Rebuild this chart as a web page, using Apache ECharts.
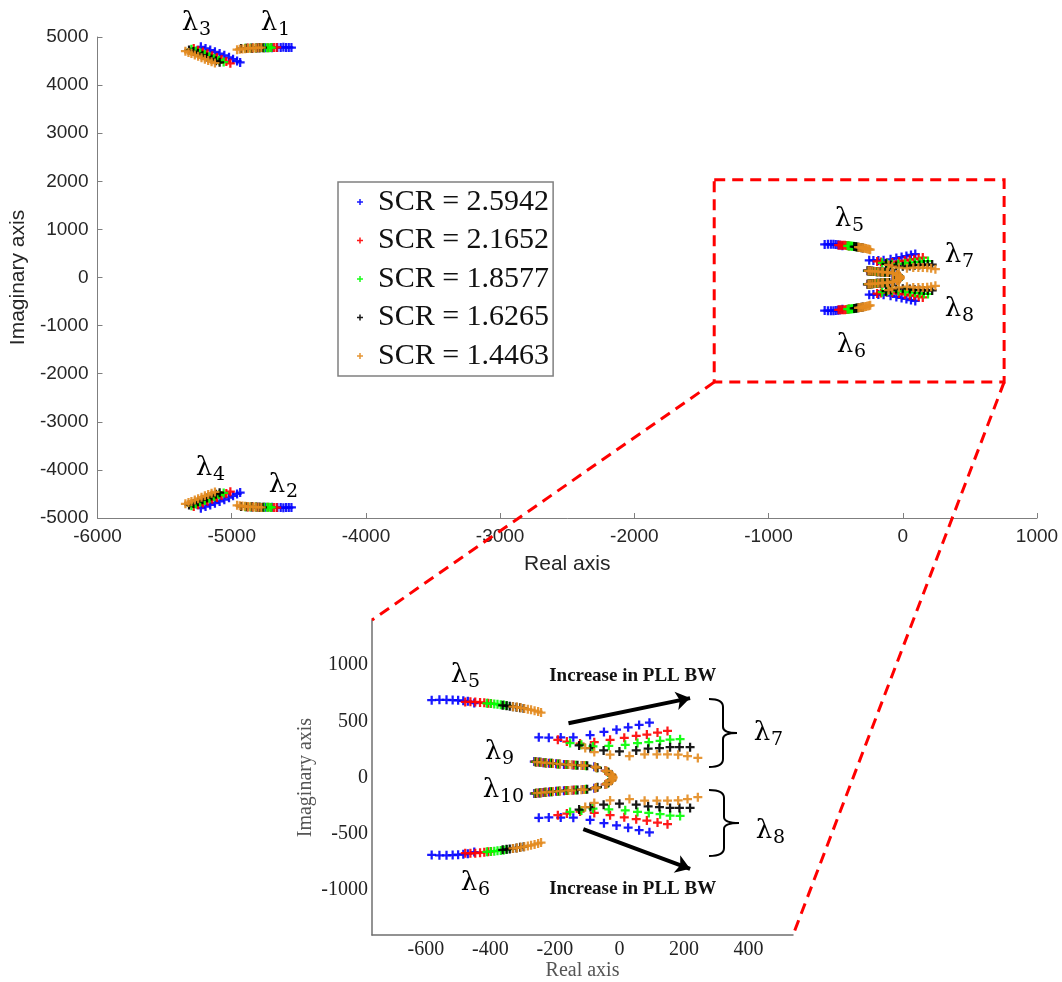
<!DOCTYPE html>
<html><head><meta charset="utf-8">
<script src="https://cdn.jsdelivr.net/npm/echarts@6/dist/echarts.min.js"></script>
<style>html,body{margin:0;padding:0;background:#fff}#c{width:1062px;height:982px}</style>
</head><body><div id="c"></div>
<script>
// ---------- data ----------
const scrNames = ['SCR = 2.5942', 'SCR = 2.1652', 'SCR = 1.8577', 'SCR = 1.6265', 'SCR = 1.4463'];
const scrColors = ['#0000ff', '#ff0000', '#00ff00', '#000000', '#e38b1f'];

// each lamN = [blue, red, green, black, orange] lists of [real, imag]
const lam1 = [
 [[-4850,4772],[-4800,4775],[-4750,4777],[-4700,4779],[-4660,4781],[-4635,4783],[-4615,4785],[-4595,4784],[-4575,4782],[-4555,4780]],
 [[-4880,4770],[-4840,4772],[-4800,4775],[-4760,4777],[-4730,4779],[-4705,4780],[-4685,4781],[-4665,4782]],
 [[-4900,4766],[-4860,4769],[-4820,4772],[-4790,4775],[-4760,4777],[-4738,4778],[-4720,4779],[-4705,4780]],
 [[-4930,4760],[-4890,4764],[-4850,4768],[-4815,4772],[-4790,4776],[-4770,4779]],
 [[-4960,4735],[-4940,4745],[-4920,4752],[-4900,4758],[-4880,4763],[-4860,4767],[-4840,4770],[-4820,4773],[-4800,4776],[-4780,4780]]
];
const lam2 = [
 [[-4850,-4772],[-4800,-4775],[-4750,-4777],[-4700,-4779],[-4660,-4781],[-4635,-4783],[-4615,-4785],[-4595,-4784],[-4575,-4782],[-4555,-4780]],
 [[-4880,-4770],[-4840,-4772],[-4800,-4775],[-4760,-4777],[-4730,-4779],[-4705,-4780],[-4685,-4781],[-4665,-4782]],
 [[-4900,-4766],[-4860,-4769],[-4820,-4772],[-4790,-4775],[-4760,-4777],[-4738,-4778],[-4720,-4779],[-4705,-4780]],
 [[-4930,-4760],[-4890,-4764],[-4850,-4768],[-4815,-4772],[-4790,-4776],[-4770,-4779]],
 [[-4960,-4735],[-4940,-4745],[-4920,-4752],[-4900,-4758],[-4880,-4763],[-4860,-4767],[-4840,-4770],[-4820,-4773],[-4800,-4776],[-4780,-4780]]
];
const lam3 = [
 [[-5230,4795],[-5195,4762],[-5160,4728],[-5125,4693],[-5090,4655],[-5055,4618],[-5020,4578],[-4990,4540],[-4960,4500],[-4937,4470]],
 [[-5283,4761],[-5250,4725],[-5215,4688],[-5180,4650],[-5145,4612],[-5110,4572],[-5075,4532],[-5040,4490],[-5010,4452]],
 [[-5300,4745],[-5268,4710],[-5235,4673],[-5200,4635],[-5165,4597],[-5130,4558],[-5095,4518],[-5060,4478]],
 [[-5318,4732],[-5285,4697],[-5252,4660],[-5218,4622],[-5184,4584],[-5150,4545],[-5118,4505],[-5090,4475]],
 [[-5345,4705],[-5322,4680],[-5300,4655],[-5275,4627],[-5250,4598],[-5225,4568],[-5200,4540],[-5175,4512],[-5150,4484],[-5125,4458]]
];
const lam4 = [
 [[-5230,-4795],[-5195,-4762],[-5160,-4728],[-5125,-4693],[-5090,-4655],[-5055,-4618],[-5020,-4578],[-4990,-4540],[-4960,-4500],[-4937,-4470]],
 [[-5283,-4761],[-5250,-4725],[-5215,-4688],[-5180,-4650],[-5145,-4612],[-5110,-4572],[-5075,-4532],[-5040,-4490],[-5010,-4452]],
 [[-5300,-4745],[-5268,-4710],[-5235,-4673],[-5200,-4635],[-5165,-4597],[-5130,-4558],[-5095,-4518],[-5060,-4478]],
 [[-5318,-4732],[-5285,-4697],[-5252,-4660],[-5218,-4622],[-5184,-4584],[-5150,-4545],[-5118,-4505],[-5090,-4475]],
 [[-5345,-4705],[-5322,-4680],[-5300,-4655],[-5275,-4627],[-5250,-4598],[-5225,-4568],[-5200,-4540],[-5175,-4512],[-5150,-4484],[-5125,-4458]]
];
const lam5 = [
 [[-582,688],[-558,691],[-536,691],[-517,689],[-500,686],[-484,682],[-470,677],[-450,662]],
 [[-478,672],[-462,673],[-447,672],[-432,668],[-419,664],[-407,660],[-398,657]],
 [[-411,660],[-399,657],[-388,654],[-378,651],[-368,648],[-358,644],[-349,640]],
 [[-362,642],[-350,638],[-340,634],[-330,630],[-319,625],[-308,620],[-297,614]],
 [[-330,630],[-318,626],[-306,620],[-295,614],[-284,608],[-274,602],[-263,594],[-252,586],[-243,578]]
];
const lam6 = [
 [[-582,-688],[-558,-691],[-536,-691],[-517,-689],[-500,-686],[-484,-682],[-470,-677],[-450,-662]],
 [[-478,-672],[-462,-673],[-447,-672],[-432,-668],[-419,-664],[-407,-660],[-398,-657]],
 [[-411,-660],[-399,-657],[-388,-654],[-378,-651],[-368,-648],[-358,-644],[-349,-640]],
 [[-362,-642],[-350,-638],[-340,-634],[-330,-630],[-319,-625],[-308,-620],[-297,-614]],
 [[-330,-630],[-318,-626],[-306,-620],[-295,-614],[-284,-608],[-274,-602],[-263,-594],[-252,-586],[-243,-578]]
];
const lam7 = [
 [[-250,358],[-219,354],[-182,356],[-143,357],[-91,377],[-48,405],[-9,425],[27,446],[61,468],[93,487]],
 [[-191,335],[-163,320],[-122,302],[-78,314],[-29,335],[15,353],[52,370],[85,382],[118,400],[149,414]],
 [[-153,306],[-118,292],[-82,276],[-33,282],[18,291],[56,306],[91,314],[126,326],[157,338],[188,341]],
 [[-125,285],[-90,262],[-49,241],[0,232],[52,241],[89,256],[124,262],[157,270],[186,270],[219,270]],
 [[-106,262],[-78,226],[-29,203],[31,191],[78,206],[116,206],[149,206],[182,203],[211,191],[243,174]]
];
const lam8 = [
 [[-250,-358],[-219,-354],[-182,-356],[-143,-357],[-91,-377],[-48,-405],[-9,-425],[27,-446],[61,-468],[93,-487]],
 [[-191,-335],[-163,-320],[-122,-302],[-78,-314],[-29,-335],[15,-353],[52,-370],[85,-382],[118,-400],[149,-414]],
 [[-153,-306],[-118,-292],[-82,-276],[-33,-282],[18,-291],[56,-306],[91,-314],[126,-326],[157,-338],[188,-341]],
 [[-125,-285],[-90,-262],[-49,-241],[0,-232],[52,-241],[89,-256],[124,-262],[157,-270],[186,-270],[219,-270]],
 [[-106,-262],[-78,-226],[-29,-203],[31,-191],[78,-206],[116,-206],[149,-206],[182,-203],[211,-191],[243,-174]]
];
const lam9 = [
 [[-264,142],[-250,138],[-236,132],[-218,128],[-196,122],[-172,117],[-145,112],[-114,107],[-78,95],[-44,62]],
 [[-262,141],[-248,137],[-233,131],[-215,127],[-193,121],[-168,116],[-140,111],[-108,106],[-72,90],[-40,56]],
 [[-260,140],[-246,136],[-230,131],[-212,126],[-190,121],[-164,116],[-135,110],[-104,105],[-70,88],[-36,50]],
 [[-258,139],[-244,135],[-228,130],[-209,126],[-186,120],[-160,115],[-130,110],[-100,104],[-68,86],[-34,46],[-24,24]],
 [[-256,138],[-242,134],[-226,130],[-206,125],[-184,120],[-158,115],[-148,113],[-118,108],[-110,107],[-76,96],[-72,88],[-44,62],[-38,54],[-26,30],[-22,18],[-20,6]]
];
const lam10 = [
 [[-264,-142],[-250,-138],[-236,-132],[-218,-128],[-196,-122],[-172,-117],[-145,-112],[-114,-107],[-78,-95],[-44,-62]],
 [[-262,-141],[-248,-137],[-233,-131],[-215,-127],[-193,-121],[-168,-116],[-140,-111],[-108,-106],[-72,-90],[-40,-56]],
 [[-260,-140],[-246,-136],[-230,-131],[-212,-126],[-190,-121],[-164,-116],[-135,-110],[-104,-105],[-70,-88],[-36,-50]],
 [[-258,-139],[-244,-135],[-228,-130],[-209,-126],[-186,-120],[-160,-115],[-130,-110],[-100,-104],[-68,-86],[-34,-46],[-24,-24]],
 [[-256,-138],[-242,-134],[-226,-130],[-206,-125],[-184,-120],[-158,-115],[-148,-113],[-118,-108],[-110,-107],[-76,-96],[-72,-88],[-44,-62],[-38,-54],[-26,-30],[-22,-18],[-20,-6]]
];

const mainXTicks = [-6000, 1000, 1000];   // min, max, interval
const mainYTicks = [-5000, 5000, 1000];
const insetXRange = [-767, 538];
const insetYRange = [-1400, 1400];
const insetXLabels = [-600, -400, -200, 0, 200, 400];
const insetYLabels = [-1000, -500, 0, 500, 1000];
const zoomBox = [[-1405, 2030], [755, -2175]];           // real/imag corners of dashed box
const arrowUp = [[-158, 482], [219, 706]];
const arrowDown = [[-112, -459], [219, -811]];
const arrowText = 'Increase in PLL BW';
const arrowTextPos = [[41, 903], [41, -994]];

// ---------- chart ----------
const plus = 'path://M3,0H5V3H8V5H5V8H3V5H0V3H3Z';
const chart = echarts.init(document.getElementById('c'), null, {renderer: 'canvas'});

const mainAll = [lam1, lam2, lam3, lam4, lam5, lam6, lam7, lam8, lam9, lam10];
const insetAll = [lam5, lam6, lam7, lam8, lam9, lam10];

const series = [];
scrNames.forEach((nm, k) => {
  series.push({
    name: nm, type: 'scatter', xAxisIndex: 0, yAxisIndex: 0,
    symbol: plus, symbolSize: 9, itemStyle: {color: scrColors[k], opacity: 0.9},
    data: mainAll.reduce((a, l) => a.concat(l[k]), []), silent: true
  });
});
scrNames.forEach((nm, k) => {
  const s = {
    name: nm, type: 'scatter', xAxisIndex: 1, yAxisIndex: 1,
    symbol: plus, symbolSize: 9, itemStyle: {color: scrColors[k], opacity: 0.9},
    data: insetAll.reduce((a, l) => a.concat(l[k]), []), silent: true, clip: true
  };
  if (k === 4) {
    s.markLine = {
      silent: true, symbol: ['none', 'arrow'], symbolSize: 14,
      label: {show: false},
      lineStyle: {color: '#000', width: 4, type: 'solid'},
      data: [
        [{coord: arrowUp[0]}, {coord: arrowUp[1]}],
        [{coord: arrowDown[0]}, {coord: arrowDown[1]}]
      ]
    };
  }
  series.push(s);
});

const plain = v => String(v);
const sansLab = {fontFamily: 'Liberation Sans', fontSize: 19, color: '#262626', formatter: plain};
const serifLab = {fontFamily: 'Liberation Serif', fontSize: 20, color: '#222', formatter: plain};

chart.setOption({
  animation: false,
  backgroundColor: '#fff',
  grid: [
    {left: 92, top: 37, width: 945, height: 481},
    {left: 372, top: 620, width: 421, height: 316}
  ],
  legend: {
    data: scrNames, orient: 'vertical', left: 338, top: 182,
    icon: plus, itemWidth: 6, itemHeight: 6, itemGap: 8.5,
    padding: [5, 4, 5, 19],
    borderColor: '#808080', borderWidth: 1.5, backgroundColor: '#fff',
    textStyle: {fontFamily: 'Liberation Serif', fontSize: 30, color: '#111', lineHeight: 30, padding: [0, 0, 0, 10]},
    selectedMode: false
  },
  xAxis: [
    {type: 'value', gridIndex: 0, min: mainXTicks[0], max: mainXTicks[1], interval: mainXTicks[2],
     axisLine: {show: true, onZero: false, lineStyle: {color: '#7f7f7f', width: 1}},
     axisTick: {show: true, inside: true, length: 5, lineStyle: {color: '#7f7f7f'}},
     axisLabel: Object.assign({margin: 9}, sansLab), splitLine: {show: false},
     name: 'Real axis', nameLocation: 'middle', nameGap: 36,
     nameTextStyle: {fontFamily: 'Liberation Sans', fontSize: 21, color: '#262626'}},
    {type: 'value', gridIndex: 1, min: insetXRange[0], max: insetXRange[1],
     axisLine: {show: true, onZero: false, lineStyle: {color: '#6f6f6f', width: 1.5}},
     axisTick: {show: false},
     axisLabel: Object.assign({margin: 5, customValues: insetXLabels}, serifLab), splitLine: {show: false},
     name: 'Real axis', nameLocation: 'middle', nameGap: 25,
     nameTextStyle: {fontFamily: 'Liberation Serif', fontSize: 20, color: '#555'}}
  ],
  yAxis: [
    {type: 'value', gridIndex: 0, min: mainYTicks[0], max: mainYTicks[1], interval: mainYTicks[2],
     axisLine: {show: true, onZero: false, lineStyle: {color: '#7f7f7f', width: 1}},
     axisTick: {show: true, inside: true, length: 5, lineStyle: {color: '#7f7f7f'}},
     axisLabel: Object.assign({margin: 9}, sansLab), splitLine: {show: false},
     name: 'Imaginary axis', nameLocation: 'middle', nameGap: 63,
     nameTextStyle: {fontFamily: 'Liberation Sans', fontSize: 21, color: '#262626'}},
    {type: 'value', gridIndex: 1, min: insetYRange[0], max: insetYRange[1],
     axisLine: {show: true, onZero: false, lineStyle: {color: '#6f6f6f', width: 1.5}},
     axisTick: {show: false},
     axisLabel: Object.assign({margin: 4, customValues: insetYLabels}, serifLab), splitLine: {show: false},
     name: 'Imaginary axis', nameLocation: 'middle', nameGap: 56,
     nameTextStyle: {fontFamily: 'Liberation Serif', fontSize: 20, color: '#555'}}
  ],
  series: series
});

// ---------- annotations ----------
const P0 = v => chart.convertToPixel({gridIndex: 0}, v);
const P1 = v => chart.convertToPixel({gridIndex: 1}, v);
const red = {stroke: '#ff0000', lineWidth: 3, lineDash: [11, 7], fill: null};
const g = [];
const b0 = P0(zoomBox[0]), b1 = P0(zoomBox[1]);
g.push({type: 'rect', shape: {x: b0[0], y: b0[1], width: b1[0] - b0[0], height: b1[1] - b0[1]}, style: red, z: 100});
const iTL = P1([insetXRange[0], insetYRange[1]]);
const iBR = P1([insetXRange[1], insetYRange[0]]);
g.push({type: 'line', shape: {x1: b0[0], y1: b1[1], x2: iTL[0], y2: iTL[1]}, style: red, z: 100});
g.push({type: 'line', shape: {x1: b1[0], y1: b1[1], x2: iBR[0], y2: iBR[1]}, style: red, z: 100});
arrowTextPos.forEach(p => {
  const q = P1(p);
  g.push({type: 'text', x: q[0], y: q[1], z: 100,
    style: {text: arrowText, fill: '#111', align: 'center', verticalAlign: 'middle',
      fontFamily: 'Liberation Serif', fontWeight: 'bold', fontSize: 19}});
});
function brace(x0, xv, xt, yT, yB) {
  const ym = (yT + yB) / 2;
  const st = {stroke: '#000', lineWidth: 2, fill: null};
  return [
    {type: 'bezierCurve', shape: {x1: x0, y1: yT, x2: xv, y2: yT + 8, cpx1: xv, cpy1: yT}, style: st, z: 100},
    {type: 'line', shape: {x1: xv, y1: yT + 8, x2: xv, y2: ym - 6}, style: st, z: 100},
    {type: 'bezierCurve', shape: {x1: xv, y1: ym - 6, x2: xt, y2: ym, cpx1: xv, cpy1: ym}, style: st, z: 100},
    {type: 'bezierCurve', shape: {x1: xt, y1: ym, x2: xv, y2: ym + 6, cpx1: xv, cpy1: ym}, style: st, z: 100},
    {type: 'line', shape: {x1: xv, y1: ym + 6, x2: xv, y2: yB - 8}, style: st, z: 100},
    {type: 'bezierCurve', shape: {x1: xv, y1: yB - 8, x2: x0, y2: yB, cpx1: xv, cpy1: yB}, style: st, z: 100}
  ];
}
brace(709, 723, 737, 699, 767).forEach(e => g.push(e));
brace(709, 724, 739, 790, 856).forEach(e => g.push(e));

// lambda labels: [cx of λ, cy of λ, subscript]
const lamLabels = [
  [190, 21, '3'], [269, 21, '1'], [204, 466, '4'], [277, 483, '2'],
  [843, 217, '5'], [845, 343, '6'], [953, 253, '7'], [953, 307, '8'],
  [459, 673, '5'], [469, 881, '6'], [493, 750, '9'], [491, 788, '10'], [762, 731, '7'], [764, 829, '8']
];
lamLabels.forEach(l => {
  g.push({type: 'text', x: l[0], y: l[1] + 2, z: 100,
    style: {text: 'λ', fill: '#000', align: 'center', verticalAlign: 'middle', fontFamily: 'DejaVu Serif', fontSize: 26}});
  g.push({type: 'text', x: l[0] + 9, y: l[1] + 9, z: 100,
    style: {text: l[2], fill: '#000', align: 'left', verticalAlign: 'middle', fontFamily: 'DejaVu Serif', fontSize: 19}});
});
chart.setOption({graphic: g});
</script>
</body></html>
